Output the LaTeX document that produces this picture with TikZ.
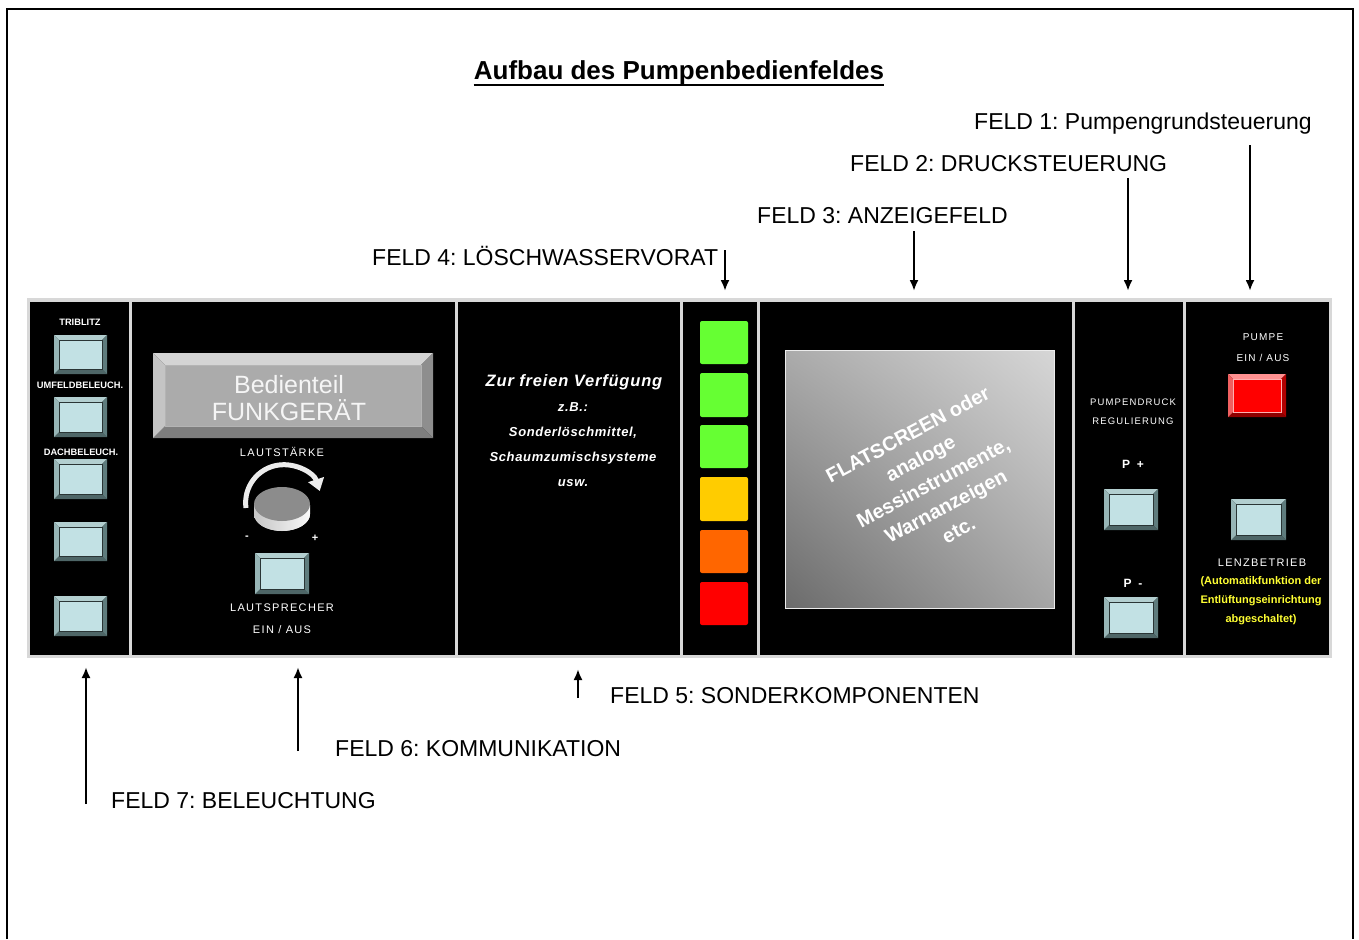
\documentclass[tikz,border=0pt]{standalone}
\usepackage{fontspec}
\setmainfont{Liberation Sans}
\newfontfamily\spaced[LetterSpace=12]{Liberation Sans}
\newfontfamily\spacedit[LetterSpace=5]{Liberation Sans}
\usetikzlibrary{arrows.meta,shadings}
\frenchspacing

\definecolor{cface}{HTML}{C2E1E4}
\definecolor{ctop}{HTML}{B3CFD0}
\definecolor{cleft}{HTML}{97B5B6}
\definecolor{cright}{HTML}{5F7C7D}
\definecolor{cbot}{HTML}{4E6667}
\definecolor{cedge}{HTML}{2A3535}
\definecolor{rface}{HTML}{FF0000}
\definecolor{rtop}{HTML}{FF9090}
\definecolor{rleft}{HTML}{F06060}
\definecolor{rright}{HTML}{B00000}
\definecolor{rbot}{HTML}{900000}
\definecolor{redge}{HTML}{FFB0B0}
\definecolor{gface}{HTML}{ABABAB}
\definecolor{gtop}{HTML}{D4D4D4}
\definecolor{gleft}{HTML}{C4C4C4}
\definecolor{gright}{HTML}{8E8E8E}
\definecolor{gbot}{HTML}{7E7E7E}
\definecolor{gedge}{HTML}{B4B4B4}
\definecolor{ledgreen}{HTML}{66FF33}
\definecolor{ledyellow}{HTML}{FFCC00}
\definecolor{ledorange}{HTML}{FF6600}
\definecolor{ledred}{HTML}{FF0000}
\definecolor{framegray}{HTML}{D8D8D8}
\definecolor{hinttext}{HTML}{FFFF33}

% bevelled box: x1 y1 x2 y2 colour-prefix bevel
\newcommand{\bevbox}[6]{%
  \fill[#5top] (#1,#2) -- (#3,#2) -- ({#3-#6},{#2+#6}) -- ({#1+#6},{#2+#6}) -- cycle;
  \fill[#5bot] (#1,#4) -- (#3,#4) -- ({#3-#6},{#4-#6}) -- ({#1+#6},{#4-#6}) -- cycle;
  \fill[#5left] (#1,#2) -- ({#1+#6},{#2+#6}) -- ({#1+#6},{#4-#6}) -- (#1,#4) -- cycle;
  \fill[#5right] (#3,#2) -- ({#3-#6},{#2+#6}) -- ({#3-#6},{#4-#6}) -- (#3,#4) -- cycle;
  \filldraw[fill=#5face, draw=#5edge, line width=0.9pt] ({#1+#6},{#2+#6}) rectangle ({#3-#6},{#4-#6});
}

\begin{document}
\begin{tikzpicture}[x=1pt,y=-1pt,
  feld/.style={font=\fontsize{23}{26}\selectfont, inner sep=0pt, anchor=base west, text=black},
  ptr/.style={line width=2.4pt, -{Latex[length=11pt,width=9pt]}},
  sect/.style={fill=black},
  wlab/.style={text=white, inner sep=0pt, font=\spaced\fontsize{11}{13}\selectfont},
  slab/.style={text=white, inner sep=0pt, font=\spaced\fontsize{9.5}{11}\selectfont},
  tinylab/.style={text=white, inner sep=0pt, font=\bfseries\fontsize{9.3}{10}\selectfont},
  ylab/.style={text=hinttext, inner sep=0pt, font=\bfseries\fontsize{11}{12}\selectfont},
  itlab/.style={text=white, inner sep=0pt, font=\spacedit\bfseries\itshape\fontsize{13}{15}\selectfont},
  led/.style={rounded corners=2pt}]
\useasboundingbox (0,0) rectangle (1359,939);

% outer border
\draw[line width=2.5pt] (7,939) -- (7,9) -- (1353,9) -- (1353,939);

% title
\node[font=\bfseries\fontsize{26}{30}\selectfont, inner sep=0pt, anchor=base] (title) at (679,80) {Aufbau des Pumpenbedienfeldes};
\draw[line width=1.6pt] ([yshift=-5pt]title.base west) -- ([yshift=-5pt]title.base east);

% panel frame
\fill[framegray] (27,298) rectangle (1332,658);
\fill[sect] (30,302) rectangle (129,655);
\fill[sect] (132,302) rectangle (455,655);
\fill[sect] (458,302) rectangle (680,655);
\fill[sect] (683,302) rectangle (757,655);
\fill[sect] (760,302) rectangle (1072,655);
\fill[sect] (1075,302) rectangle (1183,655);
\fill[sect] (1186,302) rectangle (1329,655);

% ---------- Feld 7: Beleuchtung
\node[tinylab] (lb1) at (80,322) {TRIBLITZ};
\bevbox{54}{335}{107}{374}{c}{5}
\node[tinylab] (lb2) at (80,385) {UMFELDBELEUCH.};
\bevbox{54}{397}{107}{437}{c}{5}
\node[tinylab] (lb3) at (81,452) {DACHBELEUCH.};
\bevbox{54}{459}{107}{499}{c}{5}
\bevbox{54}{522}{107}{561}{c}{5}
\bevbox{54}{596}{107}{636}{c}{5}

% ---------- Feld 6: Kommunikation
\bevbox{153}{353}{433}{438}{g}{12}
\node[text=white!92!gray, inner sep=0pt, align=center, font=\fontsize{25}{27.5}\selectfont] (funk) at (289,398) {Bedienteil\\FUNKGER\"AT};
\node[wlab] (laut) at (282,452) {LAUTST\"ARKE};
% knob
\shade[left color=gray!45, right color=white!95!gray] (254,505) -- (254,514) arc[start angle=180, end angle=0, x radius=28, y radius=17] -- (310,505) -- cycle;
\shade[left color=gray!45, right color=white!95!gray] (282,514) ellipse [x radius=28, y radius=17];
\fill[gray!90!white] (282,504) ellipse [x radius=28, y radius=17];
\draw[white!85!gray, line width=5pt, -{Triangle[length=12pt,width=16pt]}] (246,508) arc[start angle=172, end angle=342, radius=38];
\node[text=white, inner sep=0pt, font=\bfseries\fontsize{11}{13}\selectfont] (minus) at (247,538) {-};
\node[text=white, inner sep=0pt, font=\bfseries\fontsize{11}{13}\selectfont] (plus) at (315,538) {+};
\bevbox{255}{553}{309}{594}{c}{5}
\node[wlab] (lsp) at (282,608) {LAUTSPRECHER};
\node[wlab] (lsp2) at (282,630) {EIN / AUS};

% ---------- Feld 5: Sonderkomponenten
\node[itlab, font=\spacedit\bfseries\itshape\fontsize{16.5}{18}\selectfont] (s1) at (574,382) {Zur freien Verf\"ugung};
\node[itlab] (s2) at (573,407) {z.B.:};
\node[itlab] (s3) at (573,433) {Sonderl\"oschmittel,};
\node[itlab] (s4) at (573,458) {Schaumzumischsysteme};
\node[itlab] (s5) at (573,483) {usw.};

% ---------- Feld 4: Loeschwasservorrat
\fill[led, ledgreen]  (700,321) rectangle (748,364);
\fill[led, ledgreen]  (700,373) rectangle (748,417);
\fill[led, ledgreen]  (700,425) rectangle (748,468);
\fill[led, ledyellow] (700,477) rectangle (748,521);
\fill[led, ledorange] (700,530) rectangle (748,573);
\fill[led, ledred]    (700,582) rectangle (748,625);

% ---------- Feld 3: Anzeigefeld
\shade[upper left=black!33, upper right=black!16, lower left=black!58, lower right=black!35] (785,350) rectangle (1054,608);
\draw[white!85!gray, line width=1pt] (785,350) rectangle (1054,608);
\node[text=white, inner sep=0pt, align=center, rotate=28, font=\bfseries\fontsize{20}{27}\selectfont] (flat) at (933,482) {FLATSCREEN oder\\analoge\\Messinstrumente,\\Warnanzeigen\\etc.};

% ---------- Feld 2: Drucksteuerung
\node[slab] (pd1) at (1133,402) {PUMPENDRUCK};
\node[slab] (pd2) at (1133,421) {REGULIERUNG};
\node[text=white, inner sep=0pt, font=\bfseries\fontsize{12}{14}\selectfont] (pp) at (1133,464) {P\ \ +};
\bevbox{1104}{489}{1158}{530}{c}{5}
\node[text=white, inner sep=0pt, font=\bfseries\fontsize{12}{14}\selectfont] (pm) at (1133,583) {P\ \ -};
\bevbox{1104}{597}{1158}{638}{c}{5}

% ---------- Feld 1: Pumpengrundsteuerung
\node[slab, font=\spaced\fontsize{10}{12}\selectfont] (pu1) at (1263,337) {PUMPE};
\node[slab, font=\spaced\fontsize{10}{12}\selectfont] (pu2) at (1263,358) {EIN / AUS};
\bevbox{1228}{374}{1286}{417}{r}{5}
\bevbox{1231}{499}{1286}{540}{c}{5}
\node[wlab] (lenz) at (1262,563) {LENZBETRIEB};
\node[ylab] (y1) at (1261,582) {(Automatikfunktion der};
\node[ylab] (y2) at (1261,601) {Entl\"uftungseinrichtung};
\node[ylab] (y3) at (1261,620) {abgeschaltet)};

% ---------- labels and pointers
\node[feld] (f1) at (974,130) {FELD 1: Pumpengrundsteuerung};
\node[feld] (f2) at (850,171) {FELD 2: DRUCKSTEUERUNG};
\node[feld] (f3) at (757,223) {FELD 3: ANZEIGEFELD};
\node[feld] (f4) at (372,265) {FELD 4: L\"OSCHWASSERVORAT};
\node[feld] (f5) at (610,703) {FELD 5: SONDERKOMPONENTEN};
\node[feld] (f6) at (335,756) {FELD 6: KOMMUNIKATION};
\node[feld] (f7) at (111,808) {FELD 7: BELEUCHTUNG};

\coordinate (a1s) at (1250,145); \coordinate (a1e) at (1250,291);
\coordinate (a2s) at (1128,178); \coordinate (a2e) at (1128,291);
\coordinate (a3s) at (914,231);  \coordinate (a3e) at (914,291);
\coordinate (a4s) at (725,250);  \coordinate (a4e) at (725,291);
\coordinate (a5s) at (578,698);  \coordinate (a5e) at (578,669);
\coordinate (a6s) at (298,751);  \coordinate (a6e) at (298,667);
\coordinate (a7s) at (86,804);   \coordinate (a7e) at (86,667);
\draw[ptr] (a1s) -- (a1e);
\draw[ptr] (a2s) -- (a2e);
\draw[ptr] (a3s) -- (a3e);
\draw[ptr] (a4s) -- (a4e);
\draw[ptr] (a5s) -- (a5e);
\draw[ptr] (a6s) -- (a6e);
\draw[ptr] (a7s) -- (a7e);
\end{tikzpicture}
\end{document}
